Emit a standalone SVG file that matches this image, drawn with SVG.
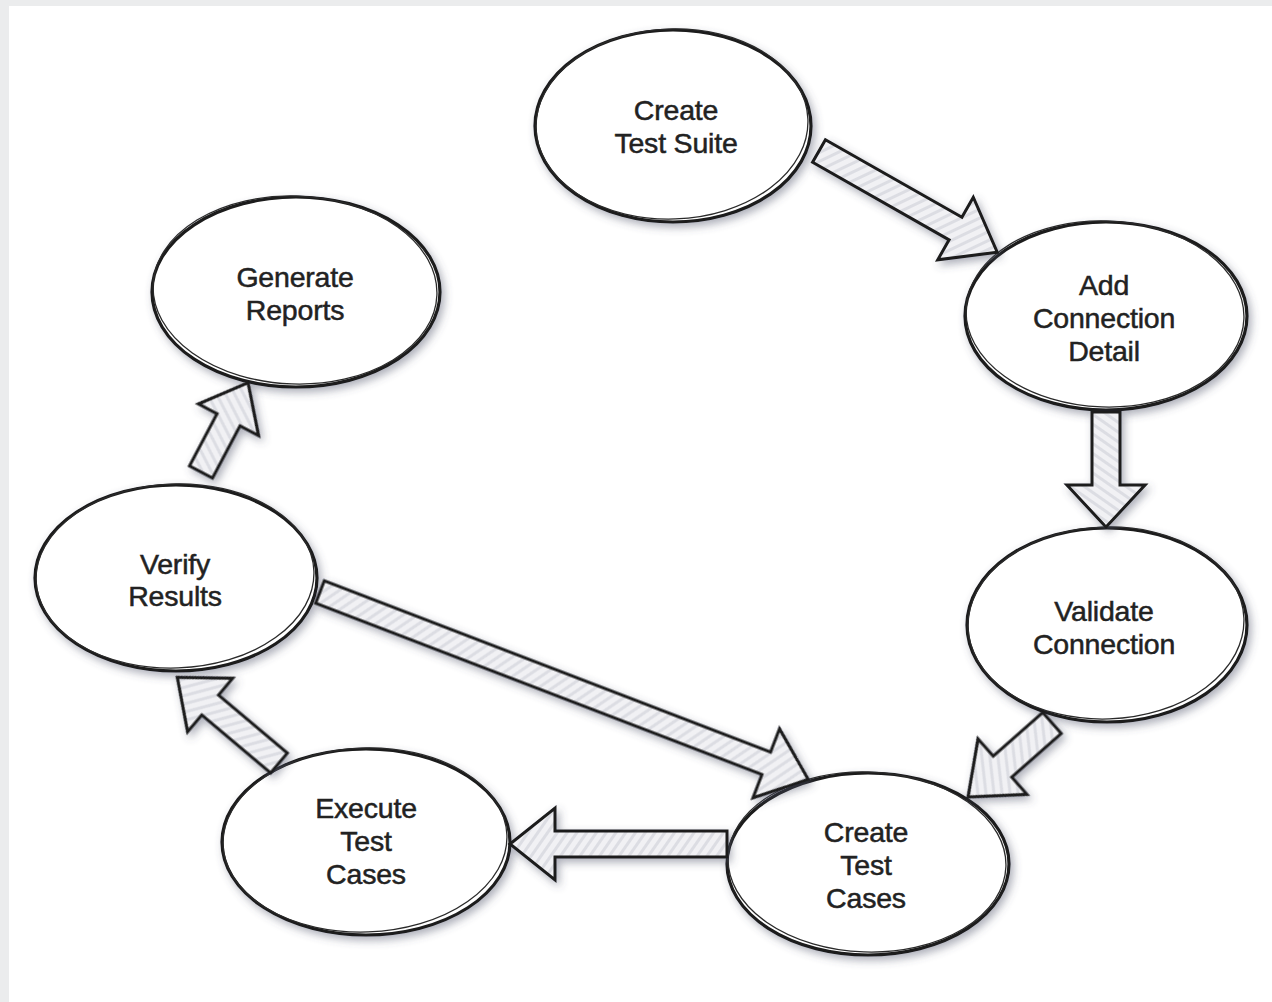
<svg xmlns="http://www.w3.org/2000/svg" width="1272" height="1002" viewBox="0 0 1272 1002">
<defs>
<filter id="sh" x="-20%" y="-20%" width="140%" height="140%">
<feDropShadow dx="3" dy="4" stdDeviation="4" flood-color="#4a4e66" flood-opacity="0.45"/>
</filter>
<pattern id="hatch" width="8" height="8" patternUnits="userSpaceOnUse" patternTransform="rotate(35)">
<rect width="8" height="8" fill="#f1f1f4"/>
<rect width="3" height="8" fill="#dcdde3"/>
</pattern>
<style>
.node ellipse.m{fill:#ffffff;stroke:#1a1a1a;stroke-width:3.2}
.node ellipse.s{fill:none;stroke:#2a2a2a;stroke-width:1.3}
.node text{font-family:"Liberation Sans",Arial,sans-serif;font-size:28.5px;fill:#222222;stroke:#222222;stroke-width:0.5;text-anchor:middle;letter-spacing:-0.2px}
.arrow{fill:url(#hatch);stroke:#1a1a1a;stroke-width:3;stroke-linejoin:miter}
</style>
</defs>
<rect width="1272" height="1002" fill="#ebeced"/>
<rect x="9" y="6" width="1263" height="996" fill="#ffffff"/>

<g id="nodes">
<g id="create-test-suite" class="node">
<ellipse class="m" cx="673" cy="126" rx="138" ry="96" filter="url(#sh)"/>
<ellipse class="s" cx="672" cy="124" rx="136" ry="95" transform="rotate(-2 672 124)"/>
<text x="676" y="120">Create</text>
<text x="676" y="153">Test Suite</text>
</g>
<g id="add-connection-detail" class="node">
<ellipse class="m" cx="1106" cy="316" rx="141" ry="94" filter="url(#sh)"/>
<ellipse class="s" cx="1105" cy="314" rx="139" ry="93" transform="rotate(2 1105 314)"/>
<text x="1104" y="295">Add</text>
<text x="1104" y="328">Connection</text>
<text x="1104" y="361">Detail</text>
</g>
<g id="validate-connection" class="node">
<ellipse class="m" cx="1107" cy="625" rx="140" ry="97" filter="url(#sh)"/>
<ellipse class="s" cx="1106" cy="623" rx="138" ry="96" transform="rotate(-2 1106 623)"/>
<text x="1104" y="621">Validate</text>
<text x="1104" y="654">Connection</text>
</g>
<g id="create-test-cases" class="node">
<ellipse class="m" cx="868" cy="864" rx="141" ry="91" filter="url(#sh)"/>
<ellipse class="s" cx="867" cy="862" rx="139" ry="90" transform="rotate(2 867 862)"/>
<text x="866" y="842">Create</text>
<text x="866" y="875">Test</text>
<text x="866" y="908">Cases</text>
</g>
<g id="execute-test-cases" class="node">
<ellipse class="m" cx="366" cy="842" rx="144" ry="93" filter="url(#sh)"/>
<ellipse class="s" cx="365" cy="840" rx="142" ry="92" transform="rotate(-2 365 840)"/>
<text x="366" y="818">Execute</text>
<text x="366" y="851">Test</text>
<text x="366" y="884">Cases</text>
</g>
<g id="verify-results" class="node">
<ellipse class="m" cx="176" cy="578" rx="141" ry="93" filter="url(#sh)"/>
<ellipse class="s" cx="175" cy="576" rx="139" ry="92" transform="rotate(-2 175 576)"/>
<text x="175" y="574">Verify</text>
<text x="175" y="606">Results</text>
</g>
<g id="generate-reports" class="node">
<ellipse class="m" cx="296" cy="292" rx="144" ry="95" filter="url(#sh)"/>
<ellipse class="s" cx="295" cy="290" rx="142" ry="94" transform="rotate(2 295 290)"/>
<text x="295" y="287">Generate</text>
<text x="295" y="320">Reports</text>
</g>
</g>

<g id="connectors" filter="url(#sh)">
<polygon class="arrow" transform="translate(819 151) rotate(29.6)" points="0,-13 157,-13 157,-36 205,0 157,36 157,13 0,13"/>
<polygon class="arrow" transform="translate(1106 412) rotate(90)" points="0,-14 73,-14 73,-39 115,0 73,39 73,14 0,14"/>
<polygon class="arrow" transform="translate(1052 723) rotate(138.6)" points="0,-14 66,-14 66,-37 112,0 66,37 66,14 0,14"/>
<polygon class="arrow" transform="translate(727 844) rotate(180)" points="0,-13 172,-13 172,-36 217,0 172,36 172,13 0,13"/>
<polygon class="arrow" transform="translate(279 763) rotate(220.1)" points="0,-13 90,-13 90,-35 133,0 90,35 90,13 0,13"/>
<polygon class="arrow" transform="translate(201 472) rotate(-62.2)" points="0,-13 59,-13 59,-34 101,0 59,34 59,13 0,13"/>
<polygon class="arrow" transform="translate(320 592) rotate(21)" points="0,-12 478,-12 478,-37 523,0 478,37 478,12 0,12"/>
</g>
</svg>
